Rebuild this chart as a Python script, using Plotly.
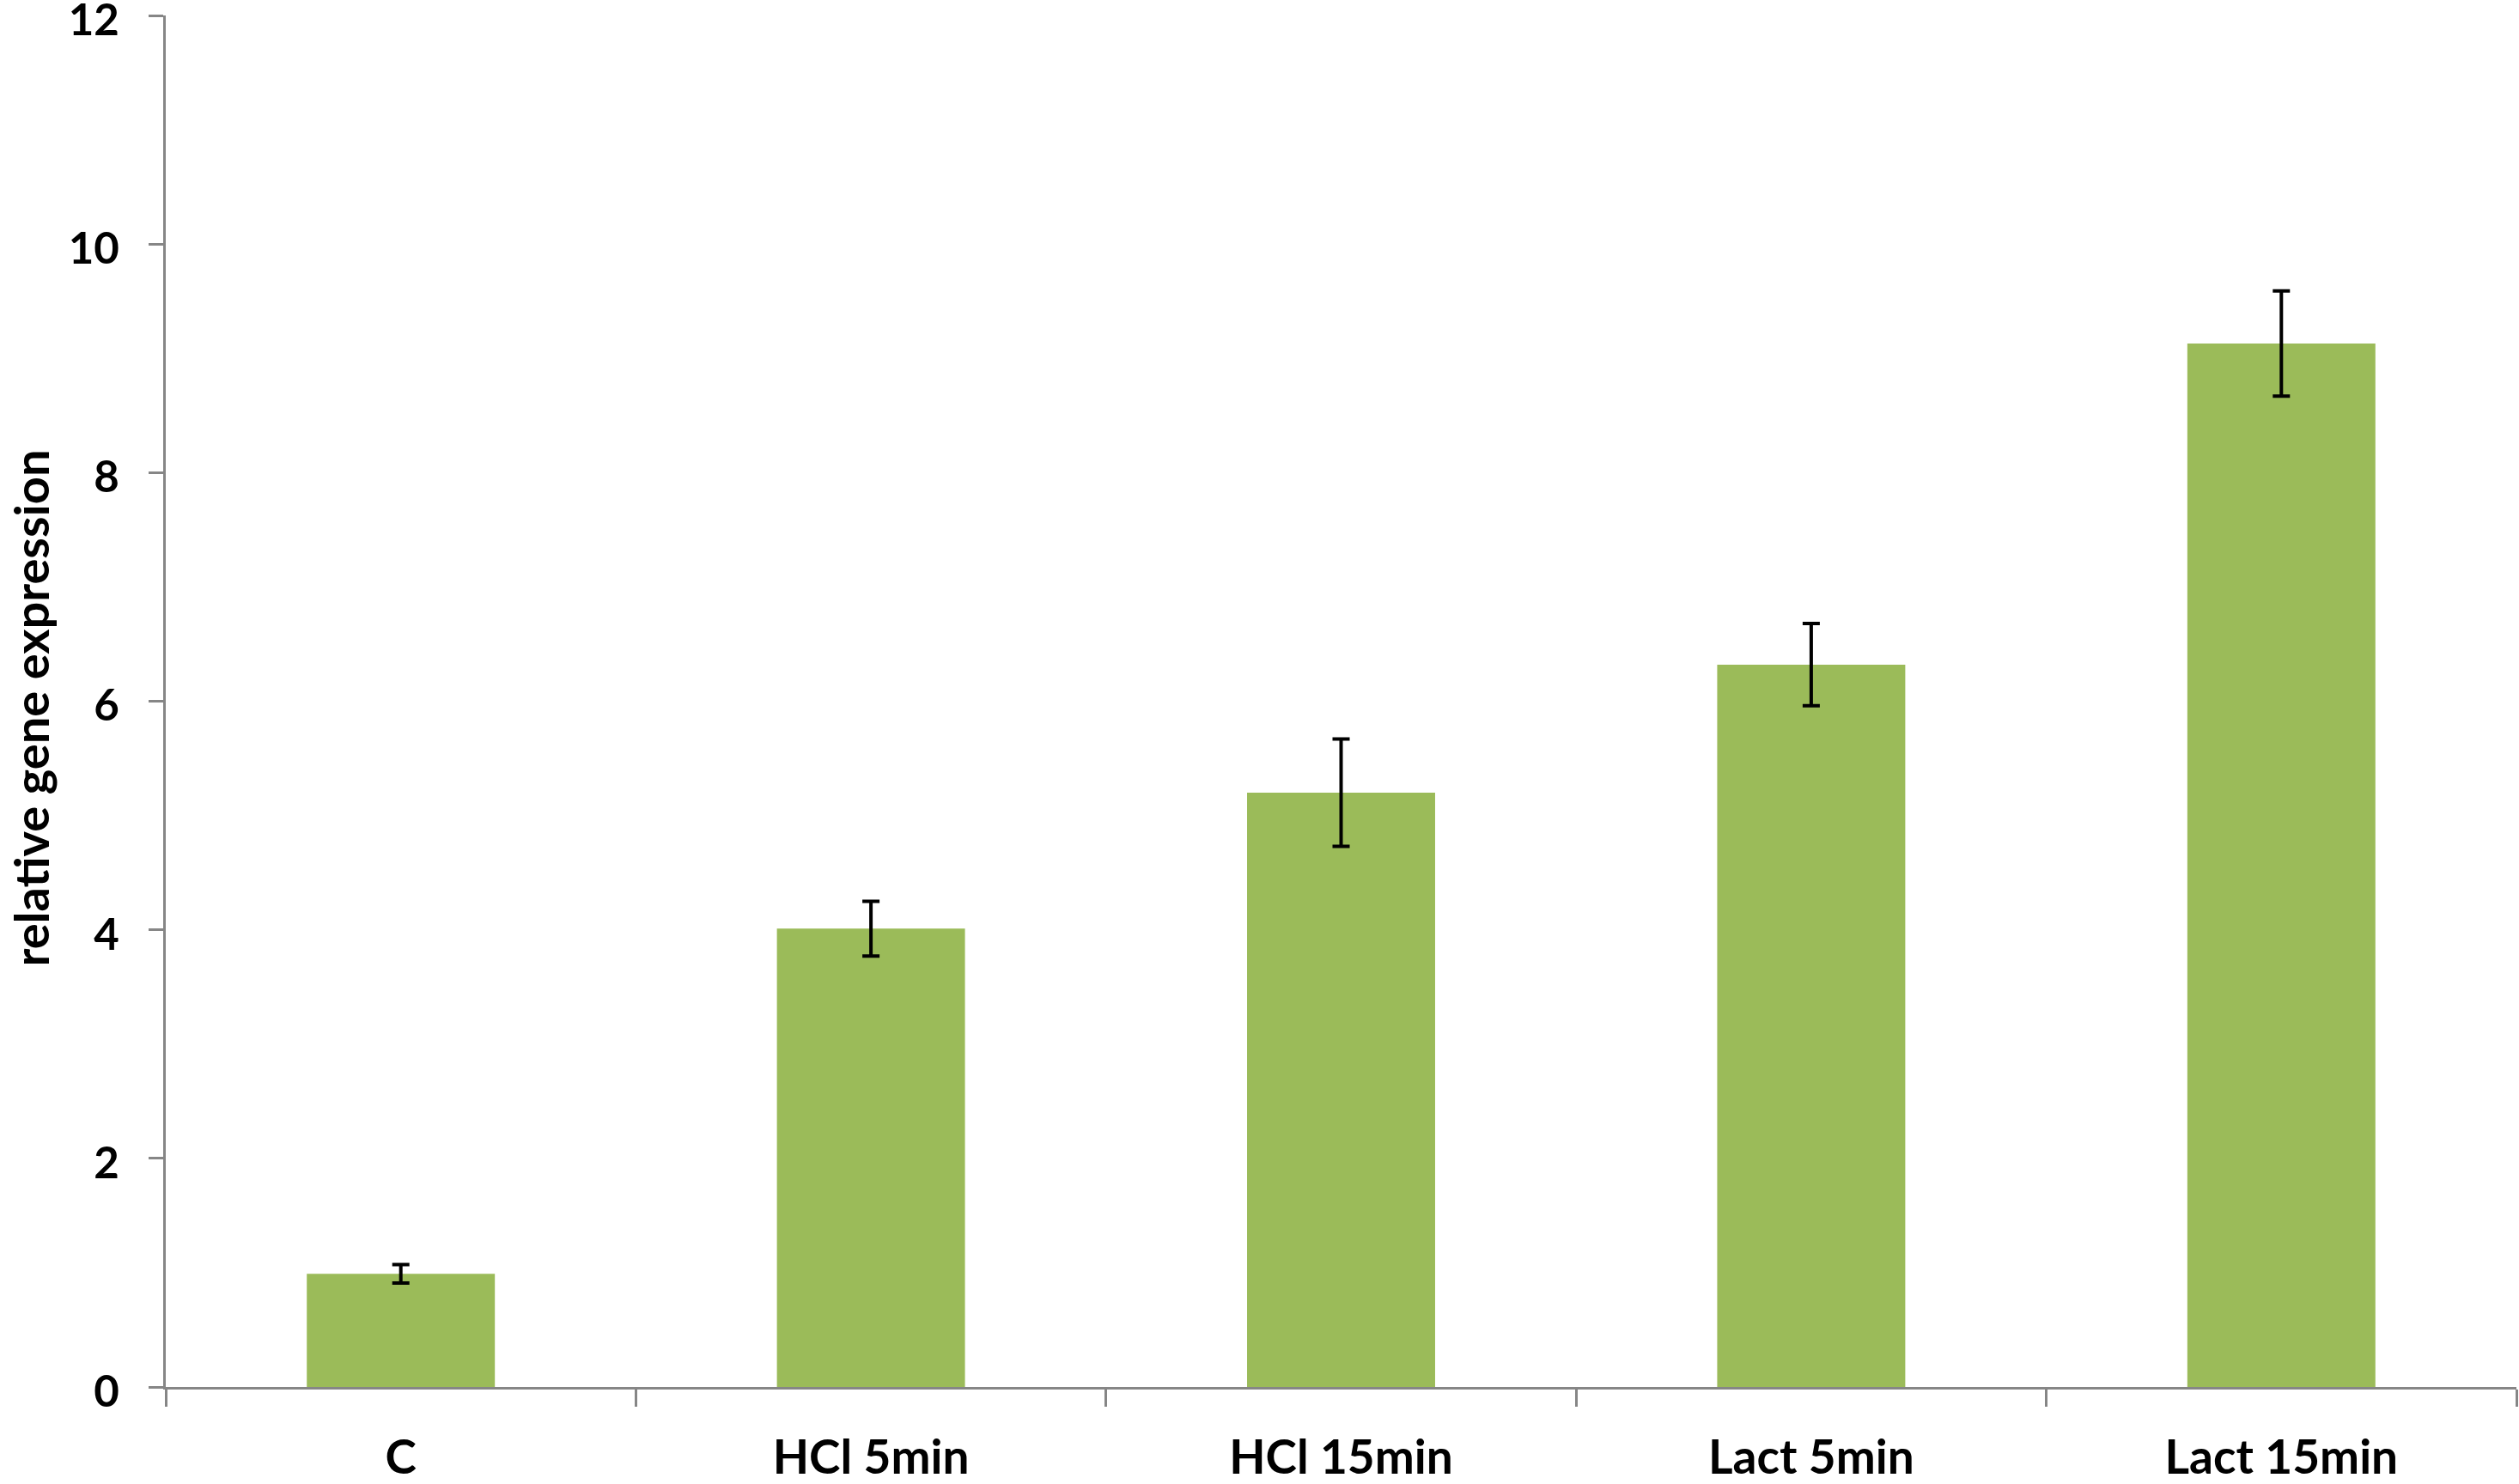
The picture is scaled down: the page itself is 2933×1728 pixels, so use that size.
import plotly.graph_objects as go

# data
categories = ["C", "HCl 5min", "HCl 15min", "Lact 5min", "Lact 15min"]
expression = [0.99, 4.01, 5.20, 6.32, 9.13]
errors = [0.08, 0.24, 0.47, 0.36, 0.46]
y_ticks = [0, 2, 4, 6, 8, 10, 12]
y_title = "relative gene expression"

axis_grey = "#868686"
bar_green = "#9BBB59"

fig = go.Figure()
fig.add_trace(go.Bar(
    x=categories,
    y=expression,
    marker_color=bar_green,
    marker_line_width=0,
    error_y=dict(type="data", array=errors, visible=True,
                 color="black", thickness=4, width=10),
    showlegend=False))

fig.update_layout(
    width=2933, height=1728,
    margin=dict(l=193, r=3, t=18, b=113),
    plot_bgcolor="white", paper_bgcolor="white",
    bargap=0.6,
    font=dict(family="Lato", color="black"),
    xaxis=dict(
        showline=True, linecolor=axis_grey, linewidth=3,
        ticks="outside", ticklen=20, tickcolor=axis_grey, tickwidth=3,
        tickson="boundaries", showgrid=False, automargin=False,
        tickfont=dict(size=55, weight="bold"),
        ticklabelstandoff=32),
    yaxis=dict(
        range=[0, 12], tickvals=y_ticks,
        showline=True, linecolor=axis_grey, linewidth=3,
        ticks="outside", ticklen=17, tickcolor=axis_grey, tickwidth=3,
        showgrid=False, zeroline=False, automargin=False,
        tickfont=dict(size=51, weight="bold"),
        ticklabelstandoff=24, ticklabelshift=5,
        ticklabeloverflow="allow"))

# y title as an annotation so it can sit close to the page edge
fig.add_annotation(
    text=y_title, textangle=-90,
    xref="paper", yref="paper", x=-0.0574, y=0.495,
    xanchor="center", yanchor="middle", showarrow=False,
    font=dict(size=56, weight="bold", color="black"))

# drop the default body margin so the figure fills the window
fig.write_html("out.html", config={"displayModeBar": False},
               post_script="document.body.style.margin='0';")
